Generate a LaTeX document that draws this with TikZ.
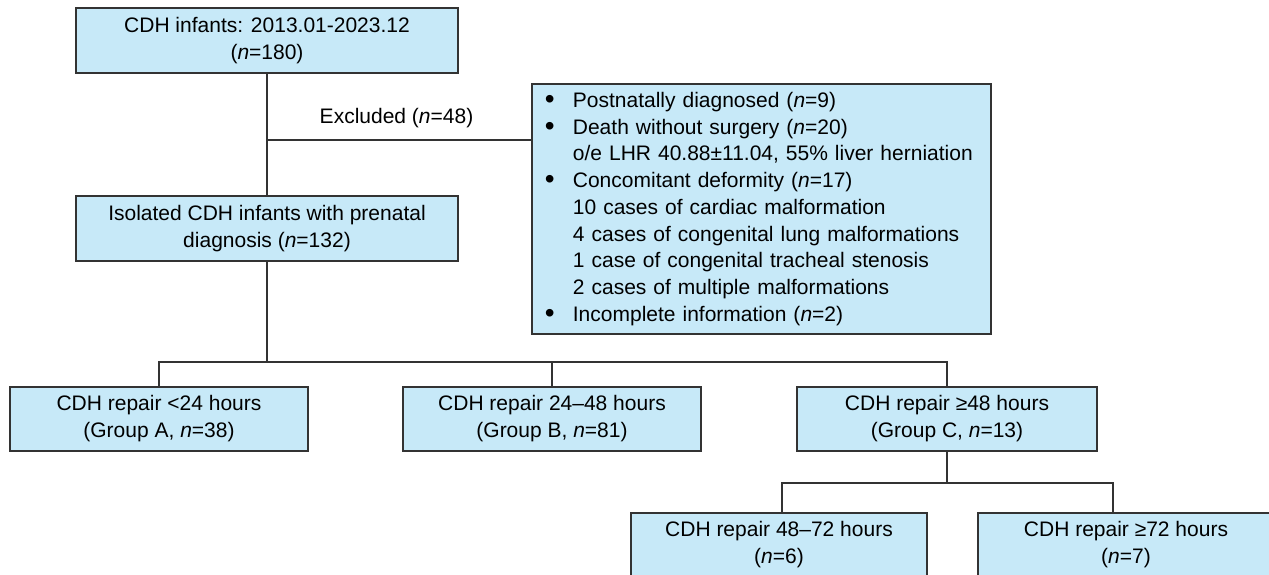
\documentclass[tikz,border=0pt]{standalone}
\usepackage{fontspec}
\setmainfont{Liberation Sans}
\definecolor{boxc}{RGB}{199,233,248}
\definecolor{linec}{RGB}{51,51,51}
\newcommand{\bigbul}{\makebox[28pt][l]{\raisebox{-1.2pt}{\fontsize{28}{28}\selectfont\textbullet}}}
\newcommand{\nobul}{\makebox[28pt][l]{}}
\begin{document}
\begin{tikzpicture}[x=1pt,y=-1pt,
  box/.style={draw=linec, fill=boxc, line width=1.8pt, align=center, inner sep=0pt,
    font=\fontsize{21}{27}\selectfont, text=black},
  conn/.style={draw=linec, line width=1.8pt},
  lbl/.style={font=\fontsize{21}{27}\selectfont, inner sep=0pt}]
\useasboundingbox (0,0) rectangle (1269,575);
\clip (0,0) rectangle (1269,575);
\fill[white] (0,0) rectangle (1269,575);

\node[box, minimum width=382pt, minimum height=65pt] (top) at (267,40.5)
  {CDH infants: 2013.01-2023.12\\(\textit{n}=180)};
\node[box, minimum width=382pt, minimum height=65pt] (iso) at (267,228.5)
  {Isolated CDH infants with prenatal\\diagnosis (\textit{n}=132)};
\node[box, anchor=north west, text width=433pt, inner xsep=13pt, inner ysep=0pt,
  minimum height=250pt, align=left, font=\fontsize{21}{26.75}\selectfont] (excl) at (531,83)
  {\bigbul Postnatally diagnosed (\textit{n}=9)\\
   \bigbul Death without surgery (\textit{n}=20)\\
   \nobul o/e LHR 40.88±11.04, 55\% liver herniation\\
   \bigbul Concomitant deformity (\textit{n}=17)\\
   \nobul 10 cases of cardiac malformation\\
   \nobul 4 cases of congenital lung malformations\\
   \nobul 1 case of congenital tracheal stenosis\\
   \nobul 2 cases of multiple malformations\\
   \bigbul Incomplete information (\textit{n}=2)};
\node[lbl] (exlbl) at (396.5,118.5) {Excluded (\textit{n}=48)};

\node[box, minimum width=298pt, minimum height=64pt] (A) at (159,419)
  {CDH repair <24 hours\\(Group A, \textit{n}=38)};
\node[box, minimum width=298pt, minimum height=64pt] (B) at (552,419)
  {CDH repair 24–48 hours\\(Group B, \textit{n}=81)};
\node[box, minimum width=300pt, minimum height=64pt] (C) at (947,419)
  {CDH repair ≥48 hours\\(Group C, \textit{n}=13)};
\node[box, minimum width=296pt, minimum height=64pt] (D) at (779,545)
  {CDH repair 48–72 hours\\(\textit{n}=6)};
\node[box, minimum width=296pt, minimum height=64pt] (E) at (1126,545)
  {CDH repair ≥72 hours\\(\textit{n}=7)};

\coordinate (j1) at (267,140);
\coordinate (hb) at (267,362);
\coordinate (hc) at (947,483);

\draw[conn] (top.south) -- (iso.north);
\draw[conn] (j1) -- (j1 -| excl.west);
\draw[conn] (iso.south) -- (hb);
\draw[conn] (A.north) |- (hb) -| (C.north);
\draw[conn] (B.north) -- (B.north |- hb);
\draw[conn] (C.south) -- (hc);
\draw[conn] ([xshift=3pt]D.north) |- (hc) -| ([xshift=-13pt]E.north);
\end{tikzpicture}
\end{document}
